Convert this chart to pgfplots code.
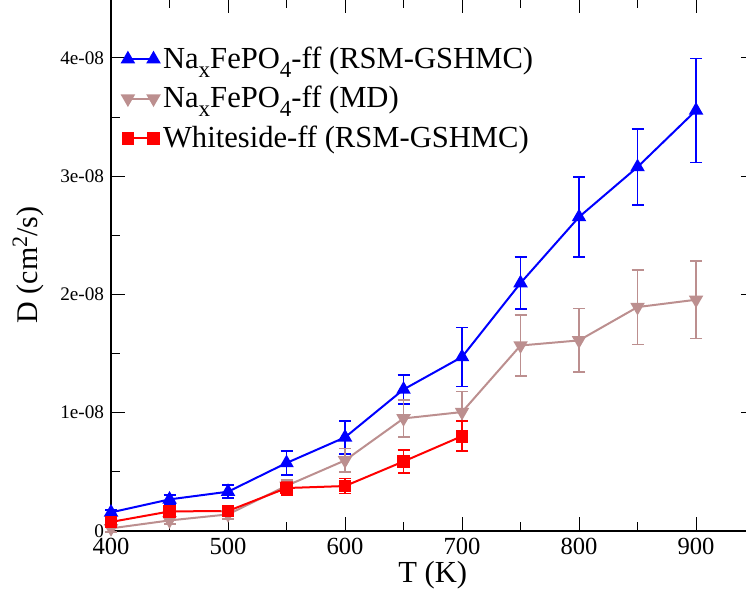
\documentclass[border=0pt]{standalone}
\usepackage{fontspec}
\setmainfont{Liberation Serif}
\usepackage{pgfplots}
\pgfplotsset{compat=1.18}
\usepackage{pgfplotstable}

\definecolor{gblue}{RGB}{0,0,255}
\definecolor{gbrown}{RGB}{188,143,143}
\definecolor{gred}{RGB}{255,0,0}

\newcommand{\sub}[1]{\raisebox{-4.5pt}{\fontsize{11.5}{12}\selectfont #1}}

\pgfplotstableread{
T D err
400 1.55e-9 0.2e-9
450 2.65e-9 0.4e-9
500 3.30e-9 0.55e-9
550 5.73e-9 1.0e-9
600 7.90e-9 1.4e-9
650 1.195e-8 1.25e-9
700 1.47e-8 2.5e-9
750 2.095e-8 2.2e-9
800 2.654e-8 3.4e-9
850 3.077e-8 3.2e-9
900 3.556e-8 4.4e-9
}\tblue

\pgfplotstableread{
T D err
400 0.2e-9 0.3e-9
450 0.87e-9 0.3e-9
500 1.38e-9 0.4e-9
550 3.8e-9 0.5e-9
600 5.95e-9 1.0e-9
650 9.5e-9 1.55e-9
700 1.004e-8 1.75e-9
750 1.567e-8 2.6e-9
800 1.61e-8 2.7e-9
850 1.892e-8 3.16e-9
900 1.954e-8 3.27e-9
}\tbrown

\pgfplotstableread{
T D err
400 0.74e-9 0.2e-9
450 1.63e-9 0.2e-9
500 1.67e-9 0.2e-9
550 3.61e-9 0.56e-9
600 3.78e-9 0.63e-9
650 5.86e-9 0.99e-9
700 8.0e-9 1.28e-9
}\tred

\begin{document}
\begin{tikzpicture}
\begin{axis}[
  scale only axis, width=321.75pt, height=265.95pt,
  xmin=400, xmax=950, ymin=0, ymax=4.5e-8,
  xtick={400,500,...,900}, minor x tick num=1,
  ytick={0,1e-8,2e-8,3e-8,4e-8}, yticklabels={0,1e-08,2e-08,3e-08,4e-08},
  minor y tick num=1,
  scaled y ticks=false,
  /pgf/number format/assume math mode=true,
  xticklabel style={font=\fontsize{12.3}{14}\selectfont},
  yticklabel style={font=\fontsize{9.6}{11}\selectfont},
  tick align=inside,
  major tick length=7pt, minor tick length=4.5pt,
  tick style={black, line width=0.5pt},
  axis line style={line width=0.8pt},
  clip=false,
  xlabel={T (K)}, ylabel={D (cm\raisebox{5pt}{\fontsize{11}{12}\selectfont 2}/s)},
  every axis x label/.style={at={(axis description cs:0.5,-0.083)}, anchor=center, font=\fontsize{15.3}{18}\selectfont},
  every axis y label/.style={at={(axis description cs:-0.129,0.5)}, anchor=center, rotate=90, font=\fontsize{15}{18}\selectfont},
  legend style={at={(axis description cs:0.017,0.918)}, anchor=north west, draw=none, fill=none,
    font=\fontsize{15.3}{18}\selectfont, row sep=3.5pt, inner sep=0pt},
  legend cell align=left,
  legend image code/.code={\draw plot coordinates {(0cm,0cm) (0.45cm,0cm)};},
]
\addplot[gblue, line width=1pt, mark=triangle*, mark size=3.2pt, mark options={solid},
  error bars/.cd, y dir=both, y explicit, error bar style={line width=0.85pt},
  error mark options={rotate=90, mark size=3pt, line width=0.85pt, gblue}]
  table[x=T, y=D, y error=err]{\tblue};
\addlegendentry{Na\sub{x}FePO\sub{4}-ff (RSM-GSHMC)}
\addplot[gbrown, line width=1pt, mark=triangle*, mark size=3.2pt, mark options={solid, rotate=180},
  error bars/.cd, y dir=both, y explicit, error bar style={line width=0.85pt},
  error mark options={rotate=90, mark size=3pt, line width=0.85pt, gbrown}]
  table[x=T, y=D, y error=err]{\tbrown};
\addlegendentry{Na\sub{x}FePO\sub{4}-ff (MD)}
\addplot[gred, line width=1pt, mark=square*, mark size=2.7pt, mark options={solid},
  error bars/.cd, y dir=both, y explicit, error bar style={line width=0.85pt},
  error mark options={rotate=90, mark size=3pt, line width=0.85pt, gred}]
  table[x=T, y=D, y error=err]{\tred};
\addlegendentry{Whiteside-ff (RSM-GSHMC)}
\coordinate (sw) at (axis cs:305.1,-4.907e-9);
\coordinate (ne) at (axis cs:942.7,4.49e-8);
\end{axis}
\pgfresetboundingbox
\useasboundingbox (sw) rectangle (ne);
\end{tikzpicture}
\end{document}
